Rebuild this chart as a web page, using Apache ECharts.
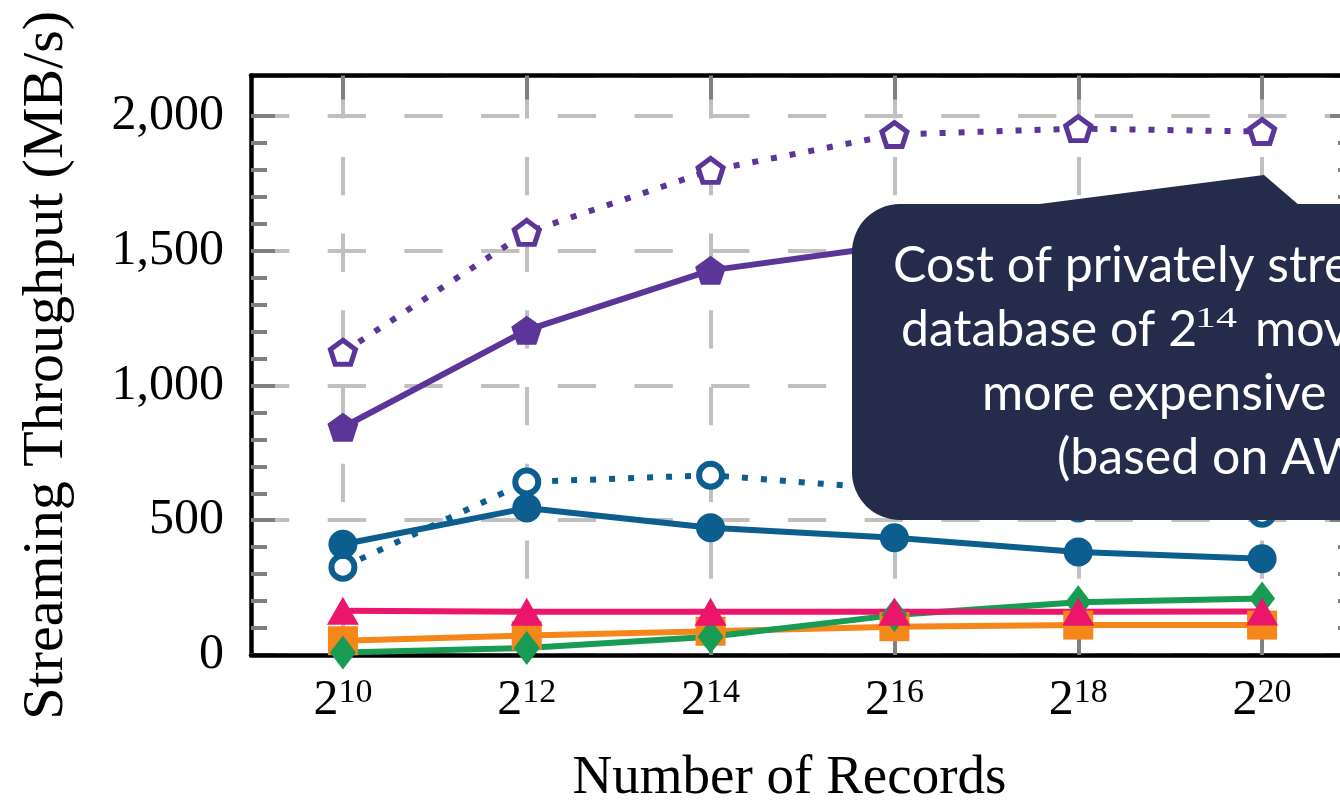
<!DOCTYPE html>
<html>
<head>
<meta charset="utf-8">
<script src="https://cdn.jsdelivr.net/npm/echarts@6/dist/echarts.min.js"></script>
<style>
  html, body { margin: 0; padding: 0; background: #ffffff; overflow: hidden; }
  #chart { width: 1340px; height: 808px; }
</style>
</head>
<body>
<div id="chart"></div>
<script>
// Number of records, as powers of two (exponents)
const exponents = ['10', '12', '14', '16', '18', '20'];

// Streaming throughput in MB/s, one array per configuration
const pentagonDotted = [1123, 1568, 1798, 1931, 1953, 1942];
const pentagonSolid  = [845, 1205, 1427, 1520, 1555, 1565];
const circleDotted   = [326, 642, 667, 615, 545, 526];
const circleSolid    = [411, 545, 472, 435, 382, 357];
const triangleSolid  = [164, 160, 160, 160, 160, 161];
const squareSolid    = [53, 72, 88, 105, 111, 111];
const diamondSolid   = [9, 26, 68, 148, 196, 210];

// y axis: major every 500, minor every 100
const yMax = 2150;
const yMajor = 500;
const yMinorTicks = [100, 200, 300, 400, 600, 700, 800, 900, 1100, 1200, 1300, 1400,
                     1600, 1700, 1800, 1900];

const PURPLE = '#5c3598';
const BLUE   = '#0b5e8e';
const PINK   = '#eb156b';
const ORANGE = '#f5861a';
const GREEN  = '#189b52';
const NAVY   = '#242b4b';

const SERIF = 'Liberation Serif';
const TICK = '#808080';
const GRIDLINE = '#c0c0c0';

const PENTAGON = 'path://M0,-1L0.951,-0.309L0.588,0.809L-0.588,0.809L-0.951,-0.309Z';

function lineSeries(data, color, opts) {
  return Object.assign({
    type: 'line',
    data: data,
    xAxisIndex: 0,
    yAxisIndex: 0,
    z: 5,
    showSymbol: true,
    symbolKeepAspect: false,
    animation: false,
    lineStyle: { color: color, width: 6, cap: 'butt' },
    itemStyle: { color: color, borderWidth: 0 }
  }, opts);
}

const dotted = { type: [6, 13], cap: 'butt', width: 6 };

const series = [
  lineSeries(squareSolid, ORANGE, { symbol: 'rect', symbolSize: [30, 29] }),
  lineSeries(diamondSolid, GREEN, { symbol: 'diamond', symbolSize: [26, 34] }),
  lineSeries(triangleSolid, PINK, { symbol: 'triangle', symbolSize: [32, 28] }),
  lineSeries(circleDotted, BLUE, {
    symbol: 'circle', symbolSize: 23,
    lineStyle: Object.assign({ color: BLUE }, dotted),
    itemStyle: { color: '#ffffff', borderColor: BLUE, borderWidth: 6 }
  }),
  lineSeries(circleSolid, BLUE, { symbol: 'circle', symbolSize: 29 }),
  lineSeries(pentagonDotted, PURPLE, {
    symbol: PENTAGON, symbolSize: [25, 24],
    lineStyle: Object.assign({ color: PURPLE }, dotted),
    itemStyle: { color: '#ffffff', borderColor: PURPLE, borderWidth: 5 }
  }),
  lineSeries(pentagonSolid, PURPLE, { symbol: PENTAGON, symbolSize: [31, 29] })
];

const frameLine = { show: true, onZero: false, lineStyle: { color: '#000000', width: 4.5 } };
const majorTick = { show: true, inside: true, length: 24, lineStyle: { color: TICK, width: 4 } };
const minorTick = { show: true, inside: true, length: 16, customValues: yMinorTicks,
                    lineStyle: { color: TICK, width: 4 } };

const calloutFont = '50px Lato';

const option = {
  animation: false,
  backgroundColor: '#ffffff',
  grid: { left: 251, top: 75.5, width: 1103, height: 579.5, containLabel: false, outerBoundsMode: 'none' },
  xAxis: [
    {
      type: 'category', data: exponents, boundaryGap: true, position: 'bottom', z: 4,
      axisLine: frameLine,
      axisTick: Object.assign({ alignWithLabel: true, interval: 0 }, majorTick),
      axisLabel: {
        interval: 0, margin: 21,
        formatter: v => '{b|2}{s|' + v + '}',
        rich: {
          b: { fontFamily: SERIF, fontSize: 50, color: '#000', lineHeight: 50 },
          s: { fontFamily: SERIF, fontSize: 34, color: '#000', lineHeight: 16, verticalAlign: 'top' }
        }
      },
      splitLine: { show: false },
      name: 'Number of Records', nameLocation: 'middle', nameGap: 96,
      nameTextStyle: { fontFamily: SERIF, fontSize: 55, color: '#000', padding: [0, 26, 0, 0] }
    },
    {
      type: 'category', data: exponents, boundaryGap: true, position: 'top', z: 4,
      axisLine: frameLine,
      axisTick: Object.assign({ alignWithLabel: true, interval: 0 }, majorTick),
      axisLabel: { show: false },
      splitLine: { show: false }
    },
    {
      // vertical dashed grid lines
      type: 'category', data: exponents, boundaryGap: true, position: 'bottom', z: 0,
      axisLine: { show: false }, axisTick: { show: false }, axisLabel: { show: false },
      splitLine: {
        show: true, interval: 0, alignWithLabel: true,
        lineStyle: { color: GRIDLINE, width: 4, type: [38.3, 38.4], dashOffset: 72 }
      }
    }
  ],
  yAxis: [
    {
      type: 'value', min: 0, max: yMax, interval: yMajor, position: 'left', z: 3,
      axisLine: frameLine,
      axisTick: majorTick,
      axisLabel: { margin: 27, showMaxLabel: false, fontFamily: SERIF, fontSize: 50, color: '#000' },
      splitLine: { show: false },
      name: 'Streaming Throughput (MB/s)', nameLocation: 'middle', nameGap: 175,
      nameTextStyle: { fontFamily: SERIF, fontSize: 58, color: '#000' }
    },
    {
      type: 'value', min: 0, max: yMax, interval: 100, position: 'left', z: 3,
      axisLine: { show: false }, axisTick: minorTick, axisLabel: { show: false },
      splitLine: { show: false }
    },
    {
      type: 'value', min: 0, max: yMax, interval: yMajor, position: 'right', z: 3,
      axisLine: frameLine, axisTick: majorTick, axisLabel: { show: false },
      splitLine: { show: false }
    },
    {
      type: 'value', min: 0, max: yMax, interval: 100, position: 'right', z: 3,
      axisLine: { show: false }, axisTick: minorTick, axisLabel: { show: false },
      splitLine: { show: false }
    },
    {
      // horizontal dashed grid lines
      type: 'value', min: 0, max: yMax, interval: yMajor, position: 'left', z: 0,
      axisLine: { show: false }, axisTick: { show: false }, axisLabel: { show: false },
      splitLine: { show: true, lineStyle: { color: GRIDLINE, width: 4, type: [38.3, 38.4], dashOffset: 0 } }
    }
  ],
  series: series,
  graphic: [
    // annotation callout
    { type: 'polygon', z: 100,
      shape: { points: [[1032, 205], [1264, 175], [1300, 206], [1300, 240], [1032, 240]] },
      style: { fill: NAVY } },
    { type: 'rect', z: 100,
      shape: { x: 852, y: 204, width: 700, height: 316, r: 48 },
      style: { fill: NAVY } },
    { type: 'text', z: 101,
      style: { text: 'Cost of privately streaming', x: 893, y: 265.5, align: 'left', verticalAlign: 'middle',
               font: calloutFont, fill: '#ffffff' } },
    { type: 'text', z: 101,
      style: { text: 'database of 2', x: 901, y: 329.5, align: 'left', verticalAlign: 'middle',
               font: calloutFont, fill: '#ffffff' } },
    { type: 'text', z: 101, x: 1195, y: 319, scaleX: 1.4,
      style: { text: '14', x: 0, y: 0, align: 'left', verticalAlign: 'middle',
               font: '30px "Liberation Serif"', fill: '#ffffff' } },
    { type: 'text', z: 101,
      style: { text: 'movies', x: 1255, y: 329.5, align: 'left', verticalAlign: 'middle',
               font: calloutFont, fill: '#ffffff' } },
    { type: 'text', z: 101,
      style: { text: 'more expensive than', x: 982, y: 393.5, align: 'left', verticalAlign: 'middle',
               font: calloutFont, fill: '#ffffff' } },
    { type: 'text', z: 101,
      style: { text: '(based on AWS', x: 1057, y: 457.5, align: 'left', verticalAlign: 'middle',
               font: calloutFont, fill: '#ffffff' } }
  ]
};

const chart = echarts.init(document.getElementById('chart'), null, { renderer: 'canvas' });
chart.setOption(option);
</script>
</body>
</html>
